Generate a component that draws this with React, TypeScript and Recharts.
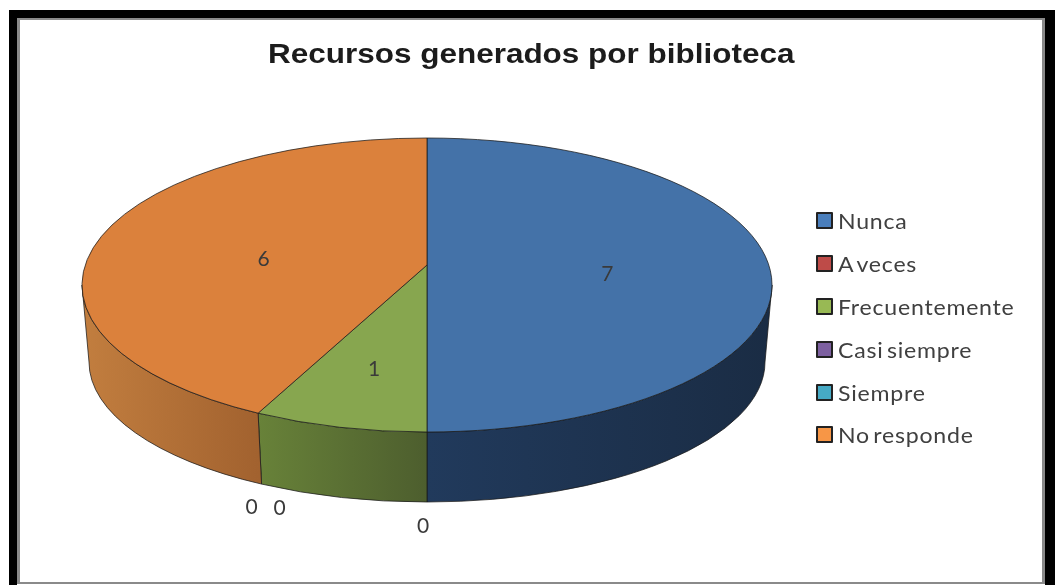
import { PieChart, Pie, Legend } from "recharts";

const categories = ["Nunca", "A veces", "Frecuentemente", "Casi siempre", "Siempre", "No responde"];
const values = [7, 0, 1, 0, 0, 6];
const topColors = ["#4472a8", "#be4b48", "#87a64f", "#7d60a0", "#46aac5", "#db813c"];
const legendColors = ["#4a7ebb", "#be4b48", "#98b954", "#7d60a0", "#46aac5", "#f79646"];
const wallColors = [
  ["#213a5c", "#1a2c44"],
  ["#7a2f2e", "#5a2322"],
  ["#688239", "#4d5e2e"],
  ["#4f3d66", "#3a2d4c"],
  ["#2d6c7d", "#21505d"],
  ["#c27e3f", "#a2622f"],
];

const data = categories.map((name, i) => ({ name, value: values[i], fill: topColors[i] }));

// fake 3d: top ellipse, smaller bottom ellipse, apex sits above the ellipse centre
const TILT = 147 / 345;
const APEX_UP = 20;
const BOTTOM_RX = 338 / 345;
const BOTTOM_RY = 140 / 147;
const BOTTOM_DOWN = 77;
const WARP = 4.6;
const EDGE = "rgba(25,25,25,0.75)";

const rad = (d: number) => (d * Math.PI) / 180;
const warp = (phi: number) => phi + WARP * Math.sin(rad(2 * phi));

function topPoint(cx: number, cy: number, r: number, phi: number) {
  return [cx + r * Math.sin(rad(phi)), cy - r * TILT * Math.cos(rad(phi))];
}
function bottomPoint(cx: number, cy: number, r: number, phi: number) {
  return [
    cx + r * BOTTOM_RX * Math.sin(rad(phi)),
    cy + BOTTOM_DOWN - r * TILT * BOTTOM_RY * Math.cos(rad(phi)),
  ];
}

function Slice(props: any) {
  const { cx, cy, outerRadius: r, startAngle, endAngle, fill, index } = props;
  const phi1 = warp(90 - startAngle);
  const phi2 = warp(90 - endAngle);
  if (Math.abs(phi2 - phi1) < 0.01) return null;

  const [ax, ay] = topPoint(cx, cy, r, phi1);
  const [bx, by] = topPoint(cx, cy, r, phi2);
  const top = `M${cx},${cy - APEX_UP} L${ax},${ay} A${r},${r * TILT} 0 0 1 ${bx},${by} Z`;

  const w1 = Math.max(phi1, 90);
  const w2 = Math.min(phi2, 270);
  let wall = null;
  if (w2 > w1) {
    const [p1x, p1y] = topPoint(cx, cy, r, w1);
    const [p2x, p2y] = topPoint(cx, cy, r, w2);
    const [q1x, q1y] = bottomPoint(cx, cy, r, w1);
    const [q2x, q2y] = bottomPoint(cx, cy, r, w2);
    const rxB = r * BOTTOM_RX;
    const ryB = r * TILT * BOTTOM_RY;
    const d =
      `M${p1x},${p1y} A${r},${r * TILT} 0 0 1 ${p2x},${p2y} L${q2x},${q2y} ` +
      `A${rxB},${ryB} 0 0 0 ${q1x},${q1y} Z`;
    const [c1, c2] = wallColors[index];
    // gradient runs left to right, darker toward the front-right
    wall = (
      <>
        <defs>
          <linearGradient
            id={`wall${index}`}
            gradientUnits="userSpaceOnUse"
            x1={Math.min(p1x, p2x)}
            x2={Math.max(p1x, p2x)}
            y1="0"
            y2="0"
          >
            <stop offset="0%" stopColor={c1} />
            <stop offset="100%" stopColor={c2} />
          </linearGradient>
        </defs>
        <path d={d} fill={`url(#wall${index})`} stroke={EDGE} strokeWidth={1} />
      </>
    );
  }

  return (
    <g>
      {wall}
      <path d={top} fill={fill} stroke={EDGE} strokeWidth={1} />
    </g>
  );
}

// how far out along apex -> rim the value sits, plus a small hand nudge
const labelReach: Record<number, number> = { 0: 0.52, 2: 0.62, 5: 0.485 };
const labelNudge: Record<number, [number, number]> = { 0: [1, -3], 2: [2, 2], 5: [1, -4] };
const zeroOffset: Record<number, [number, number]> = { 1: [-4, 22], 3: [-10, 21], 4: [18, 22] };

function SliceLabel(props: any) {
  const { cx, cy, outerRadius: r, midAngle, index, value } = props;
  const phi = warp(90 - midAngle);
  let x: number;
  let y: number;
  if (value === 0) {
    const [bx, by] = bottomPoint(cx, cy, r, phi);
    x = bx + zeroOffset[index][0];
    y = by + zeroOffset[index][1];
  } else {
    const [ex, ey] = topPoint(cx, cy, r, phi);
    const f = labelReach[index];
    x = cx + (ex - cx) * f + labelNudge[index][0];
    y = cy - APEX_UP + (ey - cy + APEX_UP) * f + labelNudge[index][1];
  }
  return (
    <text
      x={x}
      y={y}
      textAnchor="middle"
      dominantBaseline="central"
      fontFamily="Lato"
      fontSize={21}
      fill="#3a3a3a"
    >
      {value}
    </text>
  );
}

function LegendList(props: any) {
  return (
    <div>
      {props.payload.map((p: any) => (
        <div
          key={p.value}
          style={{ display: "flex", alignItems: "center", height: 42.8, whiteSpace: "nowrap" }}
        >
          <span
            style={{
              width: 13,
              height: 13,
              marginRight: 5,
              background: legendColors[categories.indexOf(p.value)],
              border: "2px solid #222",
              borderRadius: 1,
            }}
          />
          <span
            style={{
              fontFamily: "Lato",
              fontSize: 21,
              letterSpacing: 0.7,
              wordSpacing: -3,
              color: "#404040",
              transform: "scaleX(1.1)",
              transformOrigin: "left center",
            }}
          >
            {p.value}
          </span>
        </div>
      ))}
    </div>
  );
}

export default function App() {
  return (
    <div
      style={{
        position: "absolute",
        left: 0,
        top: 0,
        width: 1055,
        height: 585,
        background: "#fff",
        overflow: "hidden",
        filter: "blur(0.7px)",
      }}
    >
      {/* frame */}
      <div
        style={{
          position: "absolute",
          left: 9,
          top: 10,
          width: 1046,
          height: 590,
          boxSizing: "border-box",
          borderStyle: "solid",
          borderColor: "#000",
          borderWidth: "8px 10px 0 8px",
        }}
      >
        <div
          style={{
            position: "absolute",
            left: 0,
            top: 0,
            right: 0,
            height: 566,
            boxSizing: "border-box",
            borderStyle: "solid",
            borderColor: "#8a8a8a",
            borderWidth: "2px 3px",
          }}
        />
      </div>
      <div
        style={{
          position: "absolute",
          left: 268,
          top: 38,
          fontFamily: "Liberation Sans",
          fontWeight: 700,
          fontSize: 28,
          color: "#1c1c1c",
          whiteSpace: "nowrap",
          transform: "scaleX(1.124)",
          transformOrigin: "left center",
        }}
      >
        Recursos generados por biblioteca
      </div>
      <div style={{ position: "absolute", left: 0, top: 0 }}>
        <PieChart width={1055} height={585} margin={{ top: 0, right: 0, bottom: 0, left: 0 }}>
          <Pie
            data={data}
            dataKey="value"
            nameKey="name"
            cx={427}
            cy={285}
            outerRadius={345}
            startAngle={90}
            endAngle={-270}
            stroke="none"
            shape={Slice}
            label={SliceLabel}
            labelLine={false}
            isAnimationActive={false}
          />
          <Legend
            layout="vertical"
            content={LegendList}
            itemSorter={null}
            wrapperStyle={{ left: 816, top: 199.5, width: 230, bottom: "auto", right: "auto" }}
          />
        </PieChart>
      </div>
    </div>
  );
}
